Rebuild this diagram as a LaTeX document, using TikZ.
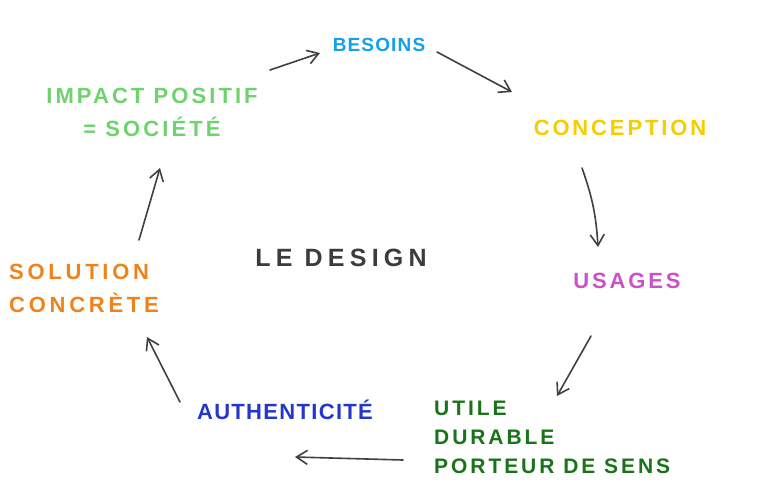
\documentclass[tikz,border=0pt]{standalone}
\usepackage{fontspec}
\setmainfont{Liberation Sans}
\usetikzlibrary{arrows.meta}

\definecolor{besoinsblue}{RGB}{20,160,230}
\definecolor{conceptyellow}{RGB}{245,205,0}
\definecolor{usagespink}{RGB}{205,80,200}
\definecolor{utilegreen}{RGB}{25,115,25}
\definecolor{authblue}{RGB}{35,55,205}
\definecolor{solorange}{RGB}{240,130,25}
\definecolor{impactgreen}{RGB}{110,210,110}
\definecolor{designgray}{RGB}{60,60,60}

\tikzset{
  lbl/.style={inner sep=2pt, align=left,
    font=\fontsize{22}{30}\bfseries\selectfont\addfontfeatures{LetterSpace=13}},
  arr/.style={-{Straight Barb[length=11pt,width=14pt]}, line width=1.6pt,
    black!75, line cap=round}
}

\begin{document}
\begin{tikzpicture}[x=1pt,y=-1pt]
    \useasboundingbox (0,0) rectangle (768,501);

    % the cycle
    \node[lbl, text=besoinsblue, font=\fontsize{19}{30}\bfseries\selectfont\addfontfeatures{LetterSpace=6}]
      (besoins) at (379,45) {BESOINS};
    \node[lbl, text=conceptyellow] (conception) at (620,128) {CONCEPTION};
    \node[lbl, text=usagespink] (usages) at (627,281) {USAGES};
    \node[lbl, text=utilegreen, anchor=west, font=\fontsize{21}{29}\bfseries\selectfont\addfontfeatures{LetterSpace=14}]
      (utile) at (432,437) {UTILE\\DURABLE\\PORTEUR DE SENS};
    \node[lbl, text=authblue, font=\fontsize{22}{30}\bfseries\selectfont\addfontfeatures{LetterSpace=6}]
      (authenticite) at (285,410) {AUTHENTICITÉ};
    \node[lbl, text=solorange, anchor=west, font=\fontsize{22}{33}\bfseries\selectfont\addfontfeatures{LetterSpace=17}]
      (solution) at (7,288) {SOLUTION\\CONCRÈTE};
    \node[lbl, text=impactgreen, align=center, font=\fontsize{22}{33}\bfseries\selectfont\addfontfeatures{LetterSpace=14}]
      (impact) at (152,112) {IMPACT POSITIF\\= SOCIÉTÉ};

    % centre
    \node[lbl, text=designgray, font=\fontsize{25}{30}\bfseries\selectfont\addfontfeatures{LetterSpace=21}]
      (design) at (341,258) {LE DESIGN};

    % arrows
    \draw[arr] ([shift={(118,-42)}]impact.center) -- ([shift={(-59,8)}]besoins.center);
    \draw[arr] ([shift={(58,7)}]besoins.center) -- ([shift={(-108,-36)}]conception.center);
    \draw[arr] ([shift={(-38,40)}]conception.center) to[bend left=8] ([shift={(-29,-34)}]usages.center);
    \draw[arr] ([shift={(-36,55)}]usages.center) -- ([shift={(125,-41)}]utile.west);
    \draw[arr] ([shift={(-29,23)}]utile.west) -- ([shift={(10,47)}]authenticite.center);
    \draw[arr] ([shift={(-105,-8)}]authenticite.center) -- ([shift={(140,49)}]solution.west);
    \draw[arr] ([shift={(132,-48)}]solution.west) -- ([shift={(8,56)}]impact.center);
\end{tikzpicture}
\end{document}
